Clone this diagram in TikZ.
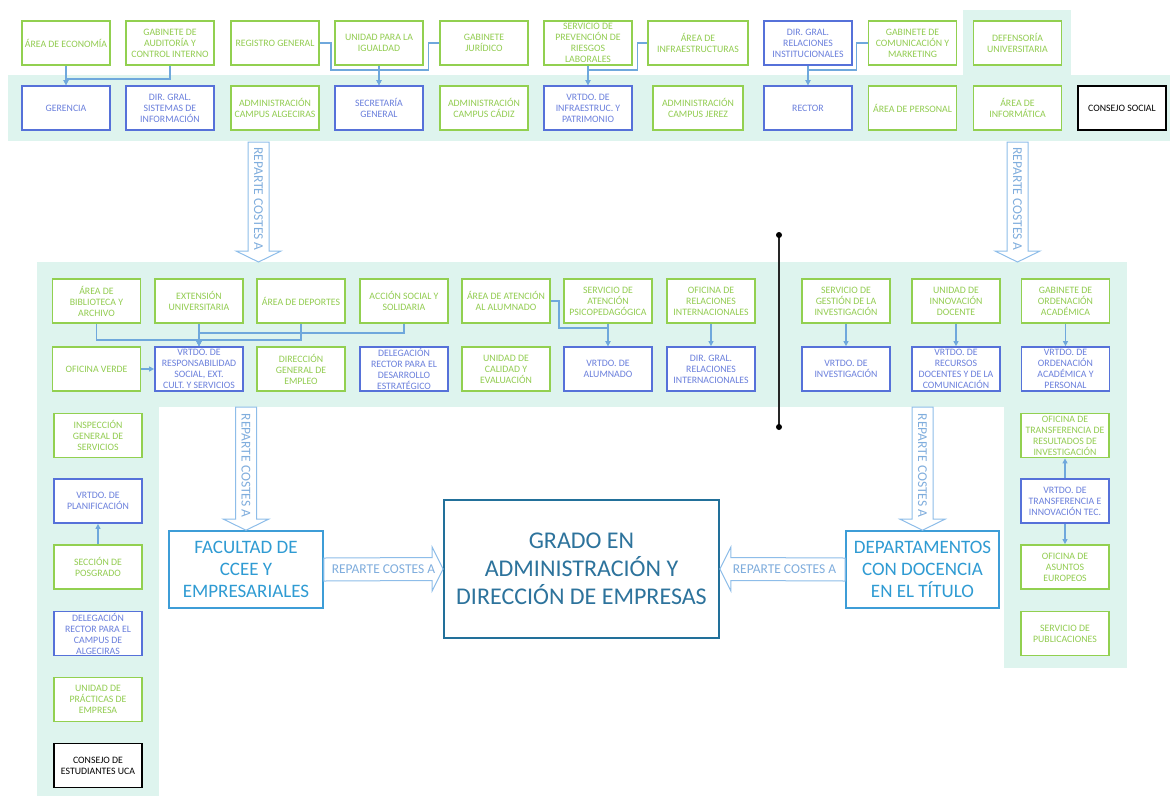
\documentclass[tikz,border=0pt]{standalone}
\usepackage{fontspec}
\setmainfont{Carlito}
\usetikzlibrary{arrows.meta,calc}
\definecolor{mint}{HTML}{DEF4EE}
\definecolor{gborder}{HTML}{92D050}
\definecolor{gtext}{HTML}{92CC50}
\definecolor{bborder}{HTML}{5671D9}
\definecolor{btext}{HTML}{6A7FDC}
\definecolor{conncol}{HTML}{6FA8DC}
\definecolor{arrline}{HTML}{8EBDE9}
\definecolor{arrtext}{HTML}{7FADDD}
\definecolor{facborder}{HTML}{3D9DD7}
\definecolor{factext}{HTML}{2F9BD3}
\definecolor{gradoborder}{HTML}{22709A}
\definecolor{gradotext}{HTML}{2D739C}
\tikzset{
  box/.style={draw, line width=1.8pt, fill=white, minimum width=88pt, minimum height=44pt, inner sep=0pt, align=center, font=\fontsize{9.8}{11}\selectfont},
  gbox/.style={box, draw=gborder, text=gtext},
  bbox/.style={box, draw=bborder, text=btext},
  kbox/.style={box, draw=black, text=black},
  conn/.style={draw=conncol, line width=1.2pt, -{Triangle[length=5pt,width=5pt]}},
  bigarrow/.style={draw=arrline, line width=1pt, fill=white},
  arrlbl/.style={text=arrtext, font=\fontsize{13.5}{13.5}\selectfont, inner sep=0pt},
  centrebox/.style={draw=facborder, line width=1.6pt, fill=white, text=factext, align=center, font=\fontsize{19}{22}\selectfont, minimum width=154pt, minimum height=77pt, inner sep=0pt},
}
\newcommand{\vblockarrow}[2]{%
  \path[bigarrow] ($(#1)+(-10.5,0)$) -- ($(#2)+(-10.5,-11)$) -- ($(#2)+(-22.5,-11)$) -- (#2)
    -- ($(#2)+(22.5,-11)$) -- ($(#2)+(10.5,-11)$) -- ($(#1)+(10.5,0)$) -- cycle;}
\newcommand{\hblockarrow}[3]{%
  \path[bigarrow] ($(#1)+(0,-11.5)$) -- ($(#2)+({-11*#3},-11.5)$) -- ($(#2)+({-11*#3},-22)$) -- (#2)
    -- ($(#2)+({-11*#3},22)$) -- ($(#2)+({-11*#3},11.5)$) -- ($(#1)+(0,11.5)$) -- cycle;}
\begin{document}
\begin{tikzpicture}[x=1pt,y=-1pt]
\useasboundingbox (0,0) rectangle (1173,796);
% background bands
\fill[mint] (8,75) rectangle (1170,141);
\fill[mint] (963,10) rectangle (1071,75);
\fill[mint] (37,262) rectangle (1127,407);
\fill[mint] (37,262) rectangle (159,796);
\fill[mint] (1004,262) rectangle (1127,668);

% top row
\node[gbox] (eco) at (66,43) {ÁREA DE ECONOMÍA};
\node[gbox] (aud) at (170,43) {GABINETE DE\\AUDITORÍA Y\\CONTROL INTERNO};
\node[gbox] (reg) at (275,43) {REGISTRO GENERAL};
\node[gbox] (igu) at (379,43) {UNIDAD PARA LA\\IGUALDAD};
\node[gbox] (jur) at (484,43) {GABINETE\\JURÍDICO};
\node[gbox] (prev) at (588,43) {SERVICIO DE\\PREVENCIÓN DE\\RIESGOS\\LABORALES};
\node[gbox, minimum width=100pt] (infra) at (698,43) {ÁREA DE\\INFRAESTRUCTURAS};
\node[bbox] (drel) at (808,43) {DIR. GRAL.\\RELACIONES\\INSTITUCIONALES};
\node[gbox] (com) at (912.5,43) {GABINETE DE\\COMUNICACIÓN Y\\MARKETING};
\node[gbox] (def) at (1017.5,43) {DEFENSORÍA\\UNIVERSITARIA};

% second row
\node[bbox] (ger) at (66,108) {GERENCIA};
\node[bbox] (dsi) at (170,108) {DIR. GRAL.\\SISTEMAS DE\\INFORMACIÓN};
\node[gbox] (aca) at (275,108) {ADMINISTRACIÓN\\CAMPUS ALGECIRAS};
\node[bbox] (sec) at (379,108) {SECRETARÍA\\GENERAL};
\node[gbox] (acc2) at (484,108) {ADMINISTRACIÓN\\CAMPUS CÁDIZ};
\node[bbox] (vinf) at (588,108) {VRTDO. DE\\INFRAESTRUC. Y\\PATRIMONIO};
\node[gbox, minimum width=90pt] (acj) at (698,108) {ADMINISTRACIÓN\\CAMPUS JEREZ};
\node[bbox] (rect) at (808,108) {RECTOR};
\node[gbox] (per) at (912.5,108) {ÁREA DE PERSONAL};
\node[gbox] (inf) at (1017.5,108) {ÁREA DE\\INFORMÁTICA};
\node[kbox] (cs) at (1122,108) {CONSEJO SOCIAL};

% top connectors
\draw[conn] (eco.south) -- (ger.north);
\draw[conn] (aud.south) -- ++(0,13) -| (ger.north);
\draw[conn] (igu.south) -- (sec.north);
\draw[conn] (reg.east) -- ++(11,0) -- ++(0,27) -| (sec.north);
\draw[conn] (jur.west) -- ++(-11,0) -- ++(0,27) -| (sec.north);
\draw[conn] (prev.south) -- (vinf.north);
\draw[conn] (infra.west) -- ++(-10,0) -- ++(0,27) -| (vinf.north);
\draw[conn] (drel.south) -- (rect.north);
\draw[conn] (com.west) -- ++(-11,0) -- ++(0,27) -| (rect.north);

% middle row 1
\node[gbox] (bib) at (96.5,301) {ÁREA DE\\BIBLIOTECA Y\\ARCHIVO};
\node[gbox] (ext) at (199,301) {EXTENSIÓN\\UNIVERSITARIA};
\node[gbox] (depo) at (301,301) {ÁREA DE DEPORTES};
\node[gbox] (acs) at (404,301) {ACCIÓN SOCIAL Y\\SOLIDARIA};
\node[gbox] (aal) at (506,301) {ÁREA DE ATENCIÓN\\AL ALUMNADO};
\node[gbox] (sap) at (608,301) {SERVICIO DE\\ATENCIÓN\\PSICOPEDAGÓGICA};
\node[gbox] (ori) at (711,301) {OFICINA DE\\RELACIONES\\INTERNACIONALES};
\node[gbox] (sgi) at (846,301) {SERVICIO DE\\GESTIÓN DE LA\\INVESTIGACIÓN};
\node[gbox] (uid) at (956,301) {UNIDAD DE\\INNOVACIÓN\\DOCENTE};
\node[gbox] (goa) at (1065.5,301) {GABINETE DE\\ORDENACIÓN\\ACADÉMICA};

% middle row 2
\node[gbox] (ofv) at (96.5,369) {OFICINA VERDE};
\node[bbox] (vrs) at (199,369) {VRTDO. DE\\RESPONSABILIDAD\\SOCIAL, EXT.\\CULT. Y SERVICIOS};
\node[gbox] (dge) at (301,369) {DIRECCIÓN\\GENERAL DE\\EMPLEO};
\node[bbox] (dre) at (404,369) {DELEGACIÓN\\RECTOR PARA EL\\DESARROLLO\\ESTRATÉGICO};
\node[gbox] (uce) at (506,369) {UNIDAD DE\\CALIDAD Y\\EVALUACIÓN};
\node[bbox] (val) at (608,369) {VRTDO. DE\\ALUMNADO};
\node[bbox] (dri) at (711,369) {DIR. GRAL.\\RELACIONES\\INTERNACIONALES};
\node[bbox] (vinv) at (846,369) {VRTDO. DE\\INVESTIGACIÓN};
\node[bbox] (vrd) at (956,369) {VRTDO. DE\\RECURSOS\\DOCENTES Y DE LA\\COMUNICACIÓN};
\node[bbox] (voa) at (1065.5,369) {VRTDO. DE\\ORDENACIÓN\\ACADÉMICA Y\\PERSONAL};

% middle connectors
\draw[conn] (bib.south) -- ++(0,16) -| (vrs.north);
\draw[conn] (depo.south) -- ++(0,16) -| (vrs.north);
\draw[conn] (acs.south) -- ++(0,9) -| (vrs.north);
\draw[conn] (ext.south) -- (vrs.north);
\draw[conn] (ofv.east) -- (vrs.west);
\draw[conn] (aal.east) -- ++(8,0) -- ++(0,27) -| (val.north);
\draw[conn] (sap.south) -- (val.north);
\draw[conn] (ori.south) -- (dri.north);
\draw[conn] (sgi.south) -- (vinv.north);
\draw[conn] (uid.south) -- (vrd.north);
\draw[conn] (goa.south) -- (voa.north);

% left column
\node[gbox] (igs) at (98,435.5) {INSPECCIÓN\\GENERAL DE\\SERVICIOS};
\node[bbox] (vpl) at (98,501) {VRTDO. DE\\PLANIFICACIÓN};
\node[gbox] (spo) at (98,567) {SECCIÓN DE\\POSGRADO};
\node[bbox] (drc) at (98,633.5) {DELEGACIÓN\\RECTOR PARA EL\\CAMPUS DE\\ALGECIRAS};
\node[gbox] (upe) at (98,699.5) {UNIDAD DE\\PRÁCTICAS DE\\EMPRESA};
\node[kbox] (ceu) at (98,765.5) {CONSEJO DE\\ESTUDIANTES UCA};
\draw[conn] (spo.north) -- (vpl.south);

% right column
\node[gbox] (otr) at (1065,435.5) {OFICINA DE\\TRANSFERENCIA DE\\RESULTADOS DE\\INVESTIGACIÓN};
\node[bbox] (vti) at (1065,501) {VRTDO. DE\\TRANSFERENCIA E\\INNOVACIÓN TEC.};
\node[gbox] (oae) at (1065,567) {OFICINA DE\\ASUNTOS\\EUROPEOS};
\node[gbox] (spu) at (1065,633.5) {SERVICIO DE\\PUBLICACIONES};
\draw[conn] (vti.north) -- (otr.south);
\draw[conn] (vti.south) -- (oae.north);

% central boxes
\node[centrebox] (fac) at (246,569.5) {FACULTAD DE\\CCEE Y\\EMPRESARIALES};
\node[centrebox, minimum width=153pt] (dpto) at (922.5,569.5) {DEPARTAMENTOS\\CON DOCENCIA\\EN EL TÍTULO};
\node[draw=gradoborder, line width=1.8pt, fill=white, text=gradotext, align=center,
  font=\fontsize{24}{28}\selectfont, minimum width=275pt, minimum height=138pt, inner sep=0pt]
  (grado) at (581.5,569) {GRADO EN\\ADMINISTRACIÓN Y\\DIRECCIÓN DE EMPRESAS};

% block arrows
\coordinate (a1s) at (258.5,142); \coordinate (a1e) at (258.5,262);
\coordinate (a2s) at (1017.5,142); \coordinate (a2e) at (1017.5,262);
\coordinate (a3s) at (fac.north |- 0,407);
\coordinate (a4s) at (dpto.north |- 0,407);
\vblockarrow{a1s}{a1e}
\vblockarrow{a2s}{a2e}
\vblockarrow{a3s}{fac.north}
\vblockarrow{a4s}{dpto.north}
\hblockarrow{fac.east}{grado.west}{1}
\hblockarrow{dpto.west}{grado.east}{-1}
\node[arrlbl, rotate=-90] at ($(a1s)!0.5!(a1e)+(0,-3)$) {REPARTE COSTES A};
\node[arrlbl, rotate=-90] at ($(a2s)!0.5!(a2e)+(0,-3)$) {REPARTE COSTES A};
\node[arrlbl, rotate=-90] at ($(a3s)!0.5!(fac.north)+(0,-3)$) {REPARTE COSTES A};
\node[arrlbl, rotate=-90] at ($(a4s)!0.5!(dpto.north)+(0,-3)$) {REPARTE COSTES A};
\node[arrlbl] at ($(fac.east)!0.5!(grado.west)$) {REPARTE COSTES A};
\node[arrlbl] at ($(dpto.west)!0.5!(grado.east)+(2,0)$) {REPARTE COSTES A};

% black line with dots
\coordinate (la) at (779,235);
\coordinate (lb) at (779,427);
\draw[line width=1.2pt, black!85] (la) -- (lb);
\fill[black] (la) circle (3pt);
\fill[black] (lb) circle (3pt);
\end{tikzpicture}
\end{document}
